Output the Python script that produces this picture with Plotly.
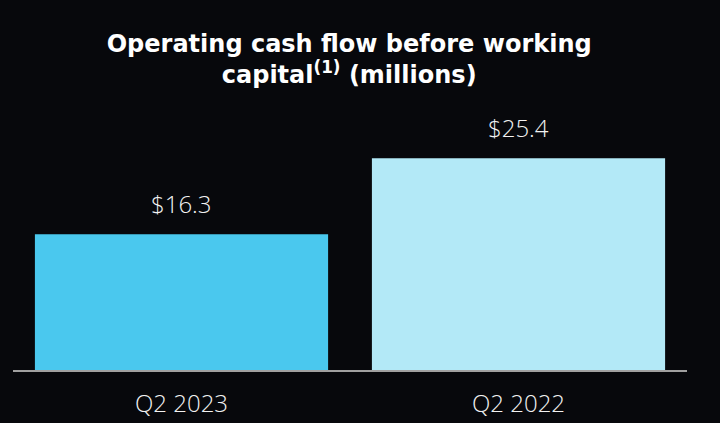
import plotly.graph_objects as go

categories = ["Q2 2023", "Q2 2022"]
values = [16.3, 25.4]
labels = ["$16.3", "$25.4"]
colors = ["#4AC8EE", "#B3E9F7"]

fig = go.Figure(go.Bar(
    x=categories, y=values,
    marker=dict(color=colors, line=dict(width=0)),
    hoverinfo="skip",
))

for c, v, t in zip(categories, values, labels):
    fig.add_annotation(
        x=c, y=v, text=t, showarrow=False, yanchor="bottom", yshift=12,
        font=dict(family="Open Sans", size=24, color="#F2F2F2", weight=300),
    )

fig.update_layout(
    width=720, height=423,
    margin=dict(l=13, r=33, t=120, b=53, autoexpand=False),
    paper_bgcolor="#07080C", plot_bgcolor="rgba(0,0,0,0)",
    bargap=0.13,
    showlegend=False,
    title=dict(
        text="<b>Operating cash flow before working<br>capital<sup>(1)</sup> (millions)</b>",
        x=0.485, xanchor="center", y=0.877, yanchor="top",
        font=dict(family="DejaVu Sans", size=24, color="#FFFFFF"),
    ),
    xaxis=dict(
        showgrid=False, zeroline=False, showline=True, automargin=False,
        linecolor="#A0A0A0", linewidth=2,
        tickfont=dict(family="Open Sans", size=24, color="#F2F2F2", weight=300),
        ticks="", ticklabelstandoff=11,
    ),
    yaxis=dict(range=[0, 30], visible=False),
)

fig.write_html("out.html", config={"displayModeBar": False},
               post_script="document.body.style.margin='0';document.body.style.background='#07080C';")
